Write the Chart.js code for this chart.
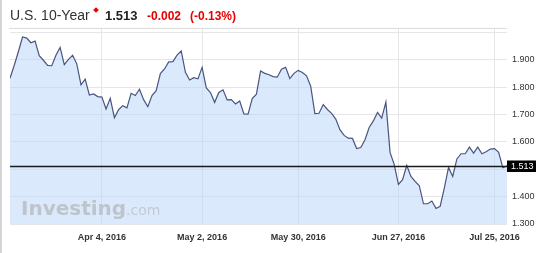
<!DOCTYPE html>
<html><head><meta charset="utf-8">
<script src="https://cdn.jsdelivr.net/npm/chart.js@4"></script>
<style>
html,body{margin:0;padding:0;background:#fff;}
#wrap{position:relative;width:550px;height:253px;overflow:hidden;}
#c{position:absolute;left:0;top:0;}
.t{position:absolute;white-space:nowrap;font-family:"Liberation Sans",Arial,sans-serif;}
.w{position:absolute;white-space:nowrap;font-family:"DejaVu Sans",Verdana,sans-serif;}
</style></head><body>
<div id="wrap">
<canvas id="c" width="550" height="253"></canvas>
<div style="position:absolute;left:0;top:0;width:2px;height:253px;background:#d5d5d5"></div>
<span class="t" style="left:10px;top:8px;font-size:14px;line-height:14px;color:#333">U.S. 10-Year</span>
<div style="position:absolute;left:94px;top:8px;width:4px;height:4px;background:#e00;transform:rotate(45deg)"></div>
<span class="t" style="left:105px;top:9px;font-size:13px;line-height:13px;font-weight:bold;color:#222">1.513</span>
<span class="t" style="left:147px;top:10px;font-size:12px;line-height:12px;font-weight:bold;color:#e60000">-0.002</span>
<span class="t" style="left:190px;top:10px;font-size:12px;line-height:12px;font-weight:bold;color:#e60000">(-0.13%)</span>
<span class="w" style="left:21px;top:197.5px;font-size:20px;line-height:20px;font-weight:bold;color:#bec4cc">Investing</span>
<span class="w" style="left:126px;top:202.5px;font-size:14px;line-height:14px;color:#c3cad2">.com</span>
</div>
<script>
const yields = [1.833,1.880,1.930,1.984,1.980,1.963,1.969,1.916,1.899,1.880,
1.879,1.917,1.946,1.883,1.902,1.917,1.885,1.809,1.830,1.772,
1.776,1.766,1.764,1.721,1.760,1.689,1.718,1.733,1.725,1.778,
1.770,1.793,1.755,1.729,1.770,1.788,1.850,1.867,1.893,1.894,
1.918,1.933,1.855,1.827,1.835,1.831,1.873,1.798,1.781,1.745,
1.781,1.791,1.754,1.755,1.739,1.750,1.703,1.702,1.759,1.775,
1.860,1.851,1.846,1.839,1.837,1.866,1.873,1.832,1.851,1.862,
1.854,1.842,1.804,1.704,1.705,1.737,1.719,1.705,1.684,1.645,
1.624,1.614,1.613,1.576,1.580,1.608,1.653,1.677,1.708,1.687,
1.746,1.562,1.517,1.445,1.462,1.514,1.474,1.456,1.440,1.374,
1.374,1.384,1.357,1.365,1.432,1.507,1.474,1.538,1.557,1.557,
1.581,1.559,1.581,1.557,1.564,1.574,1.576,1.562,1.506,1.513];
const xTickIdx = [22,46,69,93,116];
const xTickLabels = ["Apr 4, 2016","May 2, 2016","May 30, 2016","Jun 27, 2016","Jul 25, 2016"];
const yTicks = [1.3,1.4,1.5,1.6,1.7,1.8,1.9,2.0];
const lastValue = 1.513;

const lastLine = {
  id:'lastLine',
  afterDatasetsDraw(chart){
    const {ctx, chartArea:a, scales:{y}} = chart;
    const py = Math.round(y.getPixelForValue(lastValue)) + 0.5;
    ctx.save();
    ctx.strokeStyle = '#dcdcdc'; ctx.lineWidth = 1;
    ctx.beginPath(); ctx.moveTo(a.left-1, a.top+0.5); ctx.lineTo(a.right, a.top+0.5); ctx.stroke();
    ctx.strokeStyle = '#1a1a1a'; ctx.lineWidth = 1.3;
    ctx.beginPath(); ctx.moveTo(a.left, py); ctx.lineTo(a.right, py); ctx.stroke();
    ctx.fillStyle = '#000';
    ctx.fillRect(a.right, py-6, 29, 11.5);
    ctx.fillStyle = '#fff';
    ctx.font = '9px "Liberation Sans", Arial, sans-serif';
    ctx.textBaseline = 'middle'; ctx.textAlign = 'left';
    ctx.fillText(lastValue.toFixed(3), a.right+4, py);
    ctx.restore();
  }
};

new Chart(document.getElementById('c'), {
  type:'line',
  data:{datasets:[{
    data: yields.map((v,i)=>({x:i,y:v})),
    borderColor:'#4a5580', borderWidth:1.2, pointRadius:0, tension:0,
    fill:'start', backgroundColor:'rgba(181,213,249,0.5)'
  }]},
  options:{
    responsive:false, animation:false,
    layout:{padding:{left:10, top:28, right:0, bottom:0}},
    plugins:{legend:{display:false}, tooltip:{enabled:false}},
    scales:{
      x:{type:'linear', min:0, max:yields.length-1,
        afterBuildTicks: s => { s.ticks = xTickIdx.map(v=>({value:v})); },
        afterFit: s => { s.height = 29; },
        ticks:{callback:(v,i)=>xTickLabels[i], autoSkip:false, maxRotation:0,
          font:{family:'"Liberation Sans", Arial, sans-serif', size:9, weight:'bold'}, color:'#333', padding:8},
        grid:{color:'#e6e6e6', drawTicks:false}, border:{display:false}},
      y:{position:'right', min:1.3, max:2.017,
        afterBuildTicks: s => { s.ticks = yTicks.map(v=>({value:v})); },
        afterFit: s => { s.width = 43; },
        ticks:{callback:v => v > 1.95 ? '' : v.toFixed(3),
          font:{family:'"Liberation Sans", Arial, sans-serif', size:9}, color:'#333', padding:5},
        grid:{color:'#e6e6e6', drawTicks:false}, border:{display:false}}
    }
  },
  plugins:[lastLine]
});
</script>
</body></html>
